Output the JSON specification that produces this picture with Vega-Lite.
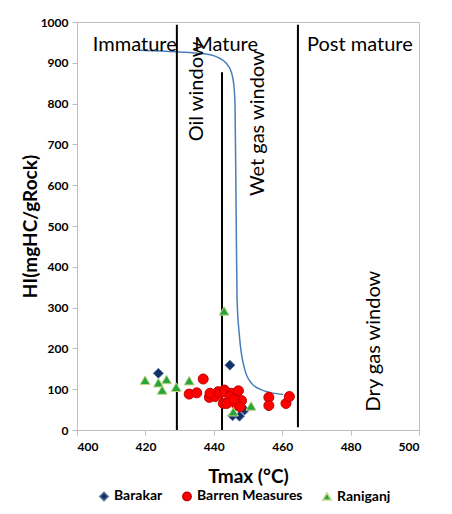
{
  "$schema": "https://vega.github.io/schema/vega-lite/v6.json",
  "width": 342,
  "height": 408,
  "autosize": {"type": "none"},
  "padding": {"left": 77, "top": 22, "right": 33, "bottom": 84},
  "background": "white",
  "config": {
    "font": "Lato",
    "view": {"stroke": "#BFBFBF", "strokeWidth": 1},
    "axis": {"grid": false, "domainColor": "#BFBFBF", "tickColor": "#BFBFBF", "labelFont": "Lato", "labelFontWeight": "bold", "labelFontSize": 12, "labelColor": "black", "titleFont": "Lato", "titleFontWeight": "bold", "titleFontSize": 19, "titleColor": "black"}
  },
  "datasets": {
    "pts": [
      {"group": "Barakar", "tmax": 423.8, "hi": 139},
      {"group": "Barakar", "tmax": 444.7, "hi": 159},
      {"group": "Barakar", "tmax": 445.5, "hi": 35},
      {"group": "Barakar", "tmax": 447.5, "hi": 34},
      {"group": "Barakar", "tmax": 449, "hi": 49},
      {"group": "Barren Measures", "tmax": 436.9, "hi": 125},
      {"group": "Barren Measures", "tmax": 432.8, "hi": 88},
      {"group": "Barren Measures", "tmax": 435, "hi": 91},
      {"group": "Barren Measures", "tmax": 438.7, "hi": 80},
      {"group": "Barren Measures", "tmax": 440.4, "hi": 82},
      {"group": "Barren Measures", "tmax": 438.9, "hi": 90},
      {"group": "Barren Measures", "tmax": 441.3, "hi": 94},
      {"group": "Barren Measures", "tmax": 441.8, "hi": 90},
      {"group": "Barren Measures", "tmax": 443.1, "hi": 98},
      {"group": "Barren Measures", "tmax": 443.3, "hi": 94},
      {"group": "Barren Measures", "tmax": 445.2, "hi": 90},
      {"group": "Barren Measures", "tmax": 447.2, "hi": 96},
      {"group": "Barren Measures", "tmax": 444.7, "hi": 82},
      {"group": "Barren Measures", "tmax": 446.2, "hi": 75},
      {"group": "Barren Measures", "tmax": 448.1, "hi": 72},
      {"group": "Barren Measures", "tmax": 442.8, "hi": 65},
      {"group": "Barren Measures", "tmax": 443.8, "hi": 65},
      {"group": "Barren Measures", "tmax": 446.7, "hi": 61},
      {"group": "Barren Measures", "tmax": 447.7, "hi": 57},
      {"group": "Barren Measures", "tmax": 445.9, "hi": 75},
      {"group": "Barren Measures", "tmax": 456.1, "hi": 80},
      {"group": "Barren Measures", "tmax": 456.1, "hi": 60},
      {"group": "Barren Measures", "tmax": 461.1, "hi": 65},
      {"group": "Barren Measures", "tmax": 462.1, "hi": 82},
      {"group": "Raniganj", "tmax": 419.9, "hi": 122},
      {"group": "Raniganj", "tmax": 423.8, "hi": 116},
      {"group": "Raniganj", "tmax": 426.2, "hi": 124},
      {"group": "Raniganj", "tmax": 424.9, "hi": 98},
      {"group": "Raniganj", "tmax": 429, "hi": 105},
      {"group": "Raniganj", "tmax": 432.8, "hi": 121},
      {"group": "Raniganj", "tmax": 443, "hi": 292},
      {"group": "Raniganj", "tmax": 445.7, "hi": 45},
      {"group": "Raniganj", "tmax": 450.9, "hi": 59}
    ],
    "curve": [
      {"o": 1, "tmax": 418.4, "hi": 931},
      {"o": 2, "tmax": 429, "hi": 927},
      {"o": 3, "tmax": 437, "hi": 922},
      {"o": 4, "tmax": 441, "hi": 914},
      {"o": 5, "tmax": 443.5, "hi": 900},
      {"o": 6, "tmax": 445, "hi": 880},
      {"o": 7, "tmax": 445.8, "hi": 850},
      {"o": 8, "tmax": 446.2, "hi": 800},
      {"o": 9, "tmax": 446.5, "hi": 560},
      {"o": 10, "tmax": 446.8, "hi": 320},
      {"o": 11, "tmax": 447.5, "hi": 230},
      {"o": 12, "tmax": 449, "hi": 150},
      {"o": 13, "tmax": 451, "hi": 115},
      {"o": 14, "tmax": 453.5, "hi": 100},
      {"o": 15, "tmax": 457, "hi": 91},
      {"o": 16, "tmax": 460.3, "hi": 87}
    ],
    "rules": [
      {"tmax": 429.2, "top": 993, "bot": 0},
      {"tmax": 442.4, "top": 877, "bot": 0},
      {"tmax": 464.6, "top": 993, "bot": 7}
    ],
    "labels": [
      {"t": "Immature", "tmax": 416.9, "hi": 944},
      {"t": "Mature", "tmax": 443.6, "hi": 944},
      {"t": "Post mature", "tmax": 482.7, "hi": 944}
    ],
    "vlabels": [
      {"t": "Oil window", "tmax": 435.1, "hi": 830},
      {"t": "Wet gas window", "tmax": 452.9, "hi": 752},
      {"t": "Dry gas window", "tmax": 486.8, "hi": 218}
    ]
  },
  "layer": [
    {
      "data": {"name": "curve"},
      "mark": {"type": "line", "color": "#4A7EBB", "strokeWidth": 1.5, "interpolate": "monotone"},
      "encoding": {
        "x": {"field": "tmax", "type": "quantitative", "scale": {"domain": [400, 500], "nice": false}, "axis": {"values": [400, 420, 440, 460, 480, 500], "title": "Tmax (°C)", "titlePadding": 15, "labelPadding": 6}},
        "y": {"field": "hi", "type": "quantitative", "scale": {"domain": [0, 1000], "nice": false}, "axis": {"values": [0, 100, 200, 300, 400, 500, 600, 700, 800, 900, 1000], "format": "d", "title": "HI(mgHC/gRock)", "titleX": -37, "labelPadding": 4}},
        "order": {"field": "o"}
      }
    },
    {
      "data": {"name": "rules"},
      "mark": {"type": "rule", "color": "black", "strokeWidth": 2},
      "encoding": {
        "x": {"field": "tmax", "type": "quantitative"},
        "y": {"field": "top", "type": "quantitative"},
        "y2": {"field": "bot"}
      }
    },
    {
      "data": {"name": "labels"},
      "mark": {"type": "text", "fontSize": 20, "font": "Lato", "align": "center", "baseline": "middle", "color": "black"},
      "encoding": {
        "x": {"field": "tmax", "type": "quantitative"},
        "y": {"field": "hi", "type": "quantitative"},
        "text": {"field": "t"}
      }
    },
    {
      "data": {"name": "vlabels"},
      "mark": {"type": "text", "fontSize": 20, "font": "Lato", "align": "center", "baseline": "middle", "angle": 270, "color": "black"},
      "encoding": {
        "x": {"field": "tmax", "type": "quantitative"},
        "y": {"field": "hi", "type": "quantitative"},
        "text": {"field": "t"}
      }
    },
    {
      "data": {"name": "pts"},
      "mark": {"type": "point", "filled": true, "size": 100, "opacity": 1, "strokeWidth": 1},
      "encoding": {
        "x": {"field": "tmax", "type": "quantitative"},
        "y": {"field": "hi", "type": "quantitative"},
        "color": {"field": "group", "type": "nominal", "scale": {"domain": ["Barakar", "Barren Measures", "Raniganj"], "range": ["#12306B", "#FF0000", "#27A43A"]}, "legend": {"title": null, "orient": "none", "legendX": 20, "legendY": 467, "direction": "horizontal", "labelFont": "Lato", "labelFontWeight": "bold", "labelFontSize": 14, "labelColor": "black", "symbolSize": 70, "columnPadding": 16, "labelOffset": 3}},
        "shape": {"field": "group", "type": "nominal", "scale": {"domain": ["Barakar", "Barren Measures", "Raniganj"], "range": ["diamond", "circle", "triangle-up"]}, "legend": null},
        "stroke": {"field": "group", "type": "nominal", "scale": {"domain": ["Barakar", "Barren Measures", "Raniganj"], "range": ["#5A6F9A", "#C00000", "#C5D68A"]}, "legend": null}
      }
    }
  ]
}
